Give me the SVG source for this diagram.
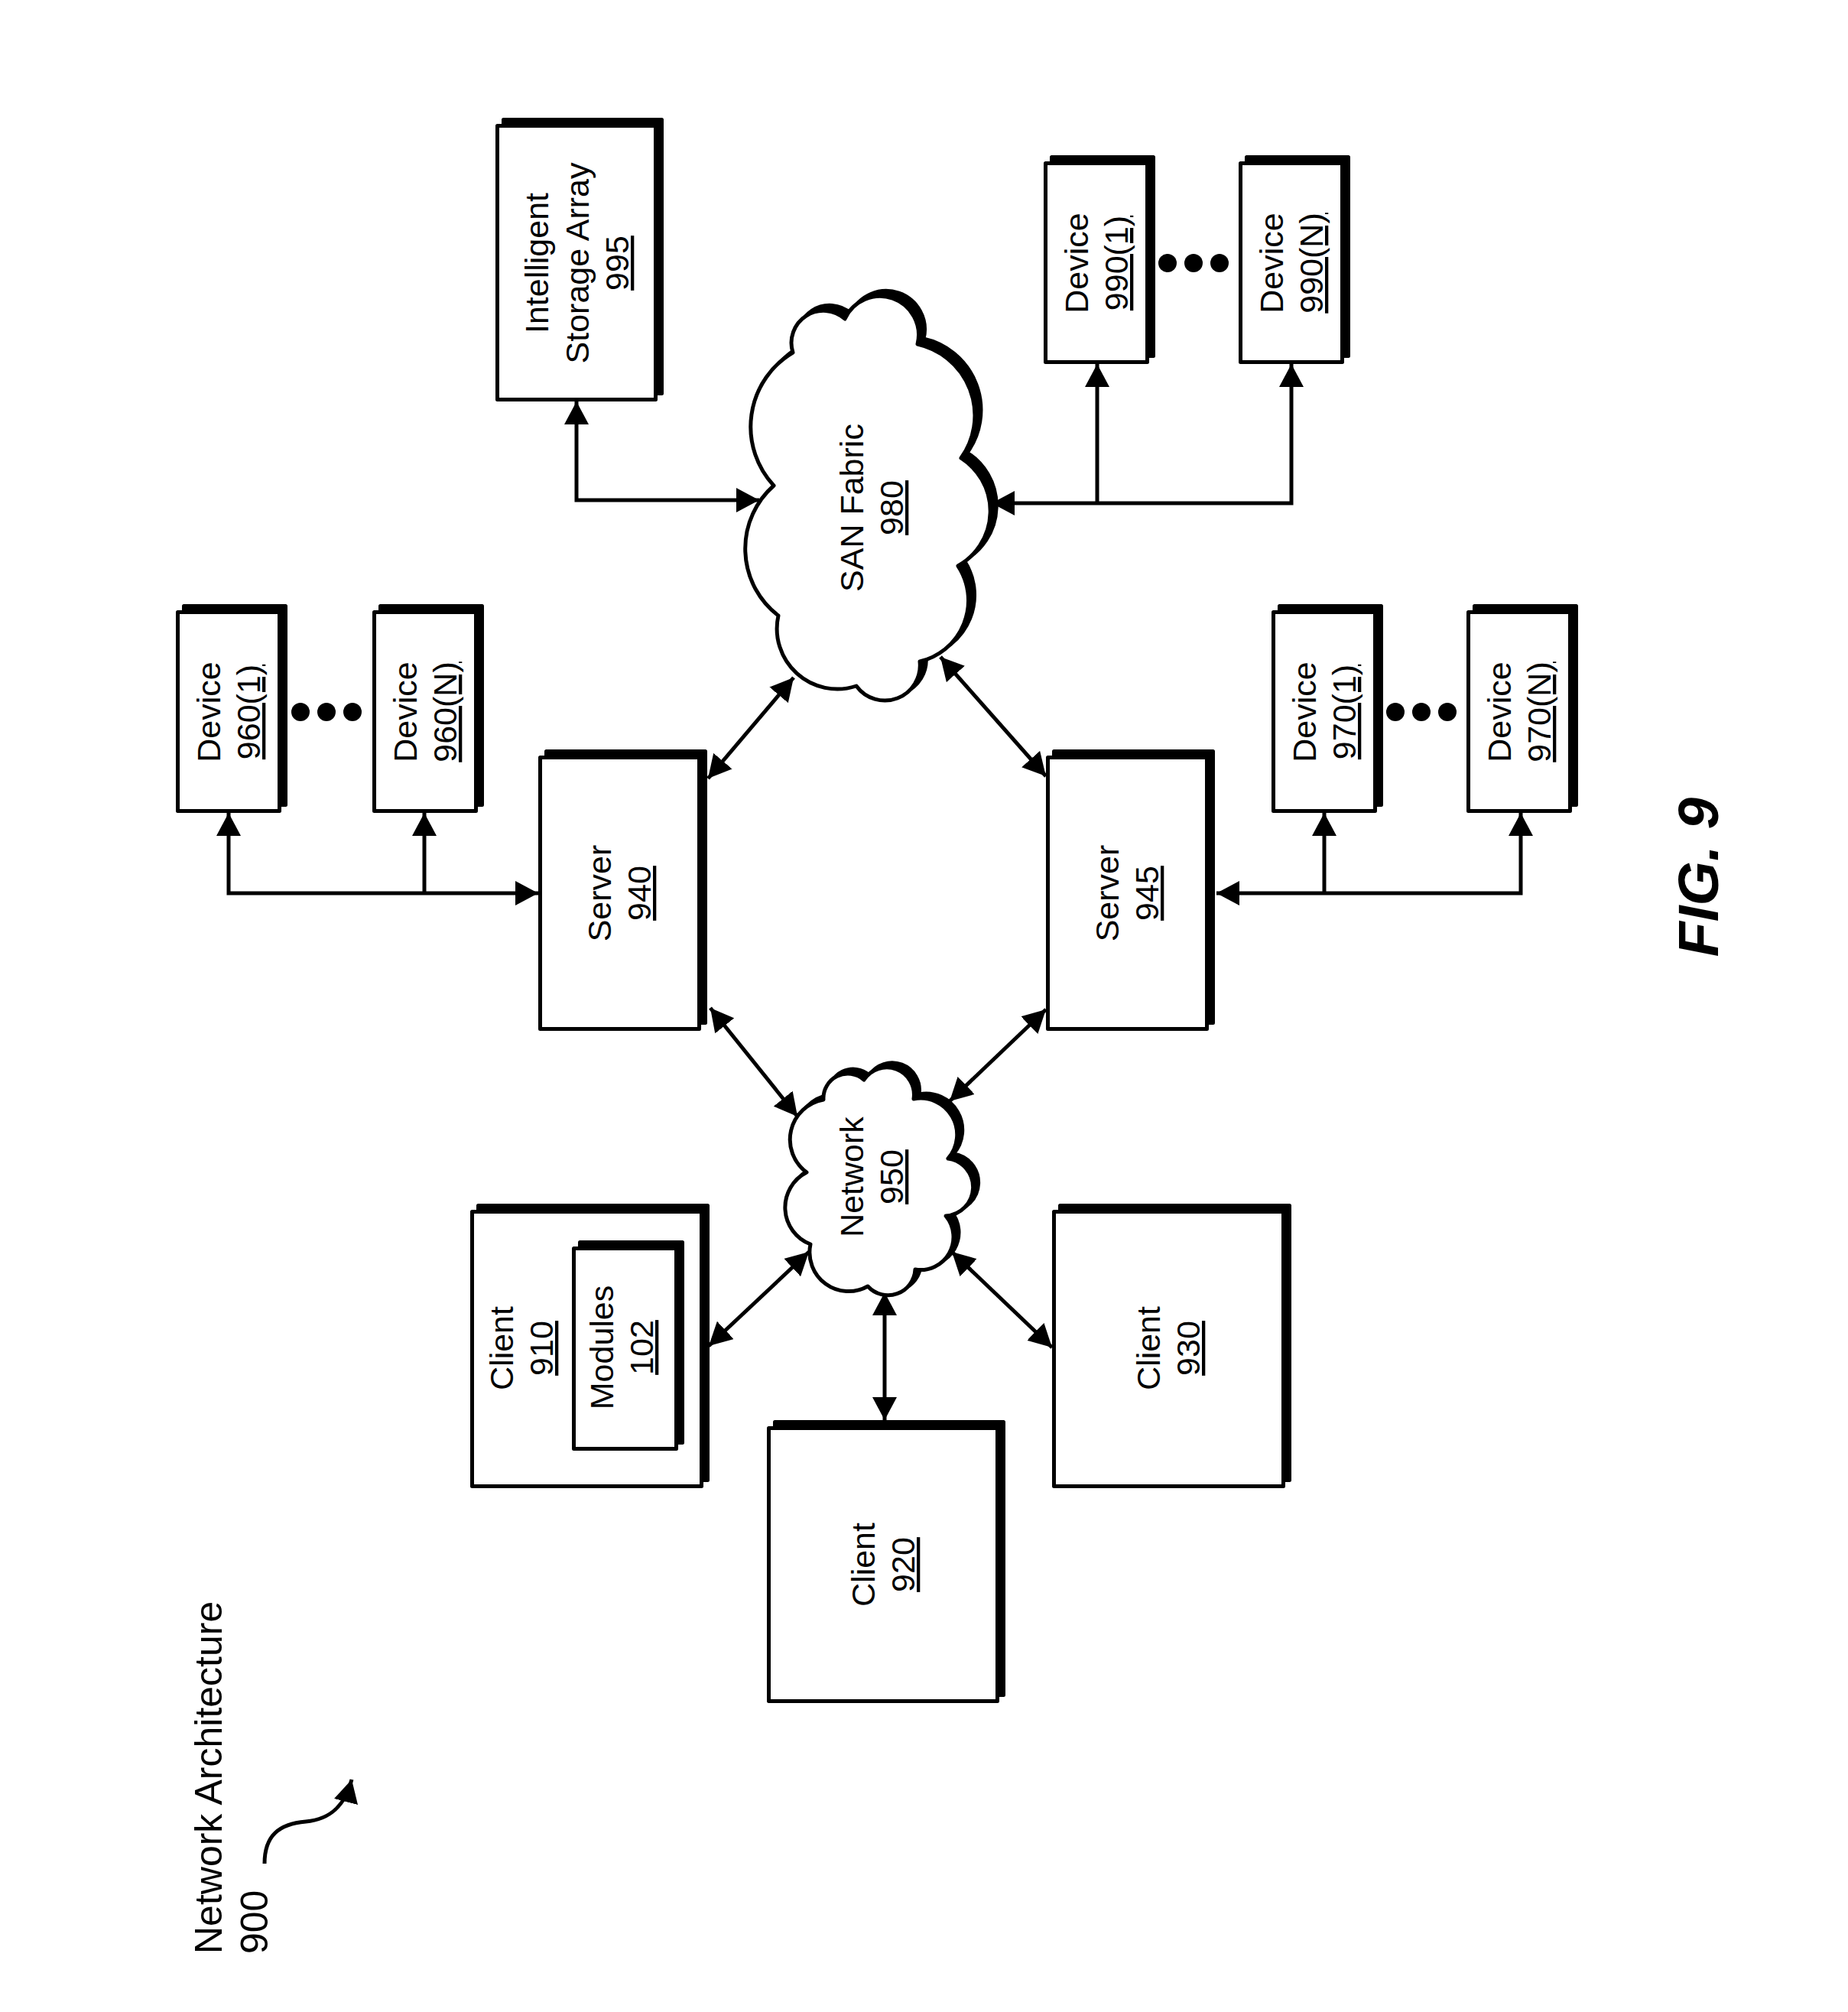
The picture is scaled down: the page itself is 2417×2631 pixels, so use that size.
<svg xmlns="http://www.w3.org/2000/svg" width="2417" height="2631" viewBox="0 0 2417 2631">
<defs>
<style>
.box{fill:#fff;stroke:#000;stroke-width:5;stroke-linejoin:round}
.shadow{fill:#000;stroke:#000;stroke-width:5;stroke-linejoin:round}
.lbl{font-family:"Liberation Sans",Arial,sans-serif;font-size:43px;text-anchor:middle;fill:#000}
.u{text-decoration:underline}
.conn{stroke:#000;stroke-width:5;fill:none}
.dot{fill:#000}
</style>
<marker id="ah" viewBox="0 0 30 32" refX="30" refY="16" markerWidth="30" markerHeight="32" markerUnits="userSpaceOnUse" orient="auto-start-reverse">
<path d="M0,0 L30,16 L0,32 z" fill="#000"/>
</marker>
</defs>
<rect width="2417" height="2631" fill="#fff"/>

<g id="title">
<text class="lbl" style="font-size:50px;text-anchor:start" transform="translate(290,2555) rotate(-90)"><tspan x="0" y="0">Network Architecture</tspan><tspan x="0" dy="60">900</tspan></text>
<path class="conn" d="M346,2437 C346,2400 365,2385 400,2382 C435,2379 452,2358 460,2327" marker-end="url(#ah)"/>
</g>

<g id="connectors">
<path class="conn" d="M754,525 V654 H993" marker-start="url(#ah)" marker-end="url(#ah)"/>
<path class="conn" d="M1297,658 H1689 V476" marker-start="url(#ah)" marker-end="url(#ah)"/>
<path class="conn" d="M1435,658 V476" marker-end="url(#ah)"/>
<path class="conn" d="M704,1168 H299 V1063" marker-start="url(#ah)" marker-end="url(#ah)"/>
<path class="conn" d="M555,1168 V1063" marker-end="url(#ah)"/>
<path class="conn" d="M1591,1168 H1989 V1063" marker-start="url(#ah)" marker-end="url(#ah)"/>
<path class="conn" d="M1732,1168 V1063" marker-end="url(#ah)"/>
<path class="conn" d="M926,1018 L1038,886" marker-start="url(#ah)" marker-end="url(#ah)"/>
<path class="conn" d="M1368,1015 L1230,859" marker-start="url(#ah)" marker-end="url(#ah)"/>
<path class="conn" d="M929,1318 L1043,1460" marker-start="url(#ah)" marker-end="url(#ah)"/>
<path class="conn" d="M1368,1320 L1242,1440" marker-start="url(#ah)" marker-end="url(#ah)"/>
<path class="conn" d="M1058,1637 L927,1760" marker-start="url(#ah)" marker-end="url(#ah)"/>
<path class="conn" d="M1157,1690 V1857" marker-start="url(#ah)" marker-end="url(#ah)"/>
<path class="conn" d="M1245,1637 L1376,1762" marker-start="url(#ah)" marker-end="url(#ah)"/>
</g>

<g id="isa995">
<rect class="shadow" x="658.5" y="156.5" width="207" height="358"/>
<rect class="box" x="650.5" y="164.5" width="207" height="358"/>
<text class="lbl" transform="translate(754,344) rotate(-90)"><tspan x="0" y="-37">Intelligent</tspan><tspan x="0" y="16">Storage Array</tspan><tspan x="0" y="68" class="u">995</tspan></text>
</g>

<g id="san980">
<path class="shadow" transform="translate(8,-7)" d="M1037,461 A42,42 0 0 1 1105,417 A50.5,50.5 0 0 1 1200,450 A95.5,95.5 0 0 1 1257,599 A82,82 0 0 1 1253,740 A82,82 0 0 1 1203,865 A46,46 0 0 1 1120,897 A79,79 0 0 1 1018,805 A110,110 0 0 1 1012,635 A113,113 0 0 1 1037,461 Z"/>
<path class="box" d="M1037,461 A42,42 0 0 1 1105,417 A50.5,50.5 0 0 1 1200,450 A95.5,95.5 0 0 1 1257,599 A82,82 0 0 1 1253,740 A82,82 0 0 1 1203,865 A46,46 0 0 1 1120,897 A79,79 0 0 1 1018,805 A110,110 0 0 1 1012,635 A113,113 0 0 1 1037,461 Z"/>
<text class="lbl" transform="translate(1140,664) rotate(-90)"><tspan x="0" y="-11">SAN Fabric</tspan><tspan x="0" y="41" class="u">980</tspan></text>
</g>

<g id="dev990-1">
<rect class="shadow" x="1375.5" y="205.5" width="133" height="260"/>
<rect class="box" x="1367.5" y="213.5" width="133" height="260"/>
<text class="lbl" transform="translate(1434,344) rotate(-90)"><tspan x="0" y="-11">Device</tspan><tspan x="0" y="41" class="u">990(1)</tspan></text>
</g>
<g id="dots990">
<circle class="dot" cx="1527" cy="344" r="12"/><circle class="dot" cx="1561" cy="344" r="12"/><circle class="dot" cx="1595" cy="344" r="12"/>
</g>
<g id="dev990-n">
<rect class="shadow" x="1630.5" y="205.5" width="133" height="260"/>
<rect class="box" x="1622.5" y="213.5" width="133" height="260"/>
<text class="lbl" transform="translate(1689,344) rotate(-90)"><tspan x="0" y="-11">Device</tspan><tspan x="0" y="41" class="u">990(N)</tspan></text>
</g>

<g id="dev960-1">
<rect class="shadow" x="240.5" y="792.5" width="133" height="260"/>
<rect class="box" x="232.5" y="800.5" width="133" height="260"/>
<text class="lbl" transform="translate(299,931) rotate(-90)"><tspan x="0" y="-11">Device</tspan><tspan x="0" y="41" class="u">960(1)</tspan></text>
</g>
<g id="dots960">
<circle class="dot" cx="393" cy="931" r="12"/><circle class="dot" cx="427" cy="931" r="12"/><circle class="dot" cx="461" cy="931" r="12"/>
</g>
<g id="dev960-n">
<rect class="shadow" x="497.5" y="792.5" width="133" height="260"/>
<rect class="box" x="489.5" y="800.5" width="133" height="260"/>
<text class="lbl" transform="translate(556,931) rotate(-90)"><tspan x="0" y="-11">Device</tspan><tspan x="0" y="41" class="u">960(N)</tspan></text>
</g>

<g id="dev970-1">
<rect class="shadow" x="1673.5" y="792.5" width="133" height="260"/>
<rect class="box" x="1665.5" y="800.5" width="133" height="260"/>
<text class="lbl" transform="translate(1732,931) rotate(-90)"><tspan x="0" y="-11">Device</tspan><tspan x="0" y="41" class="u">970(1)</tspan></text>
</g>
<g id="dots970">
<circle class="dot" cx="1825" cy="931" r="12"/><circle class="dot" cx="1859" cy="931" r="12"/><circle class="dot" cx="1893" cy="931" r="12"/>
</g>
<g id="dev970-n">
<rect class="shadow" x="1928.5" y="792.5" width="133" height="260"/>
<rect class="box" x="1920.5" y="800.5" width="133" height="260"/>
<text class="lbl" transform="translate(1987,931) rotate(-90)"><tspan x="0" y="-11">Device</tspan><tspan x="0" y="41" class="u">970(N)</tspan></text>
</g>

<g id="server940">
<rect class="shadow" x="714.5" y="982.5" width="208" height="355"/>
<rect class="box" x="706.5" y="990.5" width="208" height="355"/>
<text class="lbl" transform="translate(810,1168) rotate(-90)"><tspan x="0" y="-11">Server</tspan><tspan x="0" y="41" class="u">940</tspan></text>
</g>

<g id="server945">
<rect class="shadow" x="1378.5" y="982.5" width="208" height="355"/>
<rect class="box" x="1370.5" y="990.5" width="208" height="355"/>
<text class="lbl" transform="translate(1474,1168) rotate(-90)"><tspan x="0" y="-11">Server</tspan><tspan x="0" y="41" class="u">945</tspan></text>
</g>

<g id="network950">
<path class="shadow" transform="translate(7,-6)" d="M1077,1438 A32,32 0 0 1 1130,1412 A35.6,35.6 0 0 1 1195,1437 A47.6,47.6 0 0 1 1240,1515 A37.7,37.7 0 0 1 1237,1590 A43,43 0 0 1 1197,1660 A35.6,35.6 0 0 1 1135,1682 A51,51 0 0 1 1060,1627 A51.5,51.5 0 0 1 1055,1533 A53,53 0 0 1 1077,1438 Z"/>
<path class="box" d="M1077,1438 A32,32 0 0 1 1130,1412 A35.6,35.6 0 0 1 1195,1437 A47.6,47.6 0 0 1 1240,1515 A37.7,37.7 0 0 1 1237,1590 A43,43 0 0 1 1197,1660 A35.6,35.6 0 0 1 1135,1682 A51,51 0 0 1 1060,1627 A51.5,51.5 0 0 1 1055,1533 A53,53 0 0 1 1077,1438 Z"/>
<text class="lbl" transform="translate(1140,1539) rotate(-90)"><tspan x="0" y="-11">Network</tspan><tspan x="0" y="41" class="u">950</tspan></text>
</g>

<g id="client910">
<rect class="shadow" x="625.5" y="1576.5" width="300" height="359"/>
<rect class="box" x="617.5" y="1584.5" width="300" height="359"/>
<text class="lbl" transform="translate(682,1763) rotate(-90)"><tspan x="0" y="-11">Client</tspan><tspan x="0" y="41" class="u">910</tspan></text>
<g id="modules102">
<rect class="shadow" x="758.5" y="1624.5" width="134" height="262"/>
<rect class="box" x="750.5" y="1632.5" width="134" height="262"/>
<text class="lbl" transform="translate(813,1762) rotate(-90)"><tspan x="0" y="-11">Modules</tspan><tspan x="0" y="41" class="u">102</tspan></text>
</g>
</g>

<g id="client920">
<rect class="shadow" x="1013.5" y="1859.5" width="299" height="357"/>
<rect class="box" x="1005.5" y="1867.5" width="299" height="357"/>
<text class="lbl" transform="translate(1155,2046) rotate(-90)"><tspan x="0" y="-11">Client</tspan><tspan x="0" y="41" class="u">920</tspan></text>
</g>

<g id="client930">
<rect class="shadow" x="1386.5" y="1576.5" width="300" height="359"/>
<rect class="box" x="1378.5" y="1584.5" width="300" height="359"/>
<text class="lbl" transform="translate(1528,1763) rotate(-90)"><tspan x="0" y="-11">Client</tspan><tspan x="0" y="41" class="u">930</tspan></text>
</g>

<g id="figlabel">
<text transform="translate(2247,1147) rotate(-90)" style="font-family:'Liberation Sans',Arial,sans-serif;font-size:75px;font-weight:bold;font-style:italic;text-anchor:middle">FIG. 9</text>
</g>
</svg>
